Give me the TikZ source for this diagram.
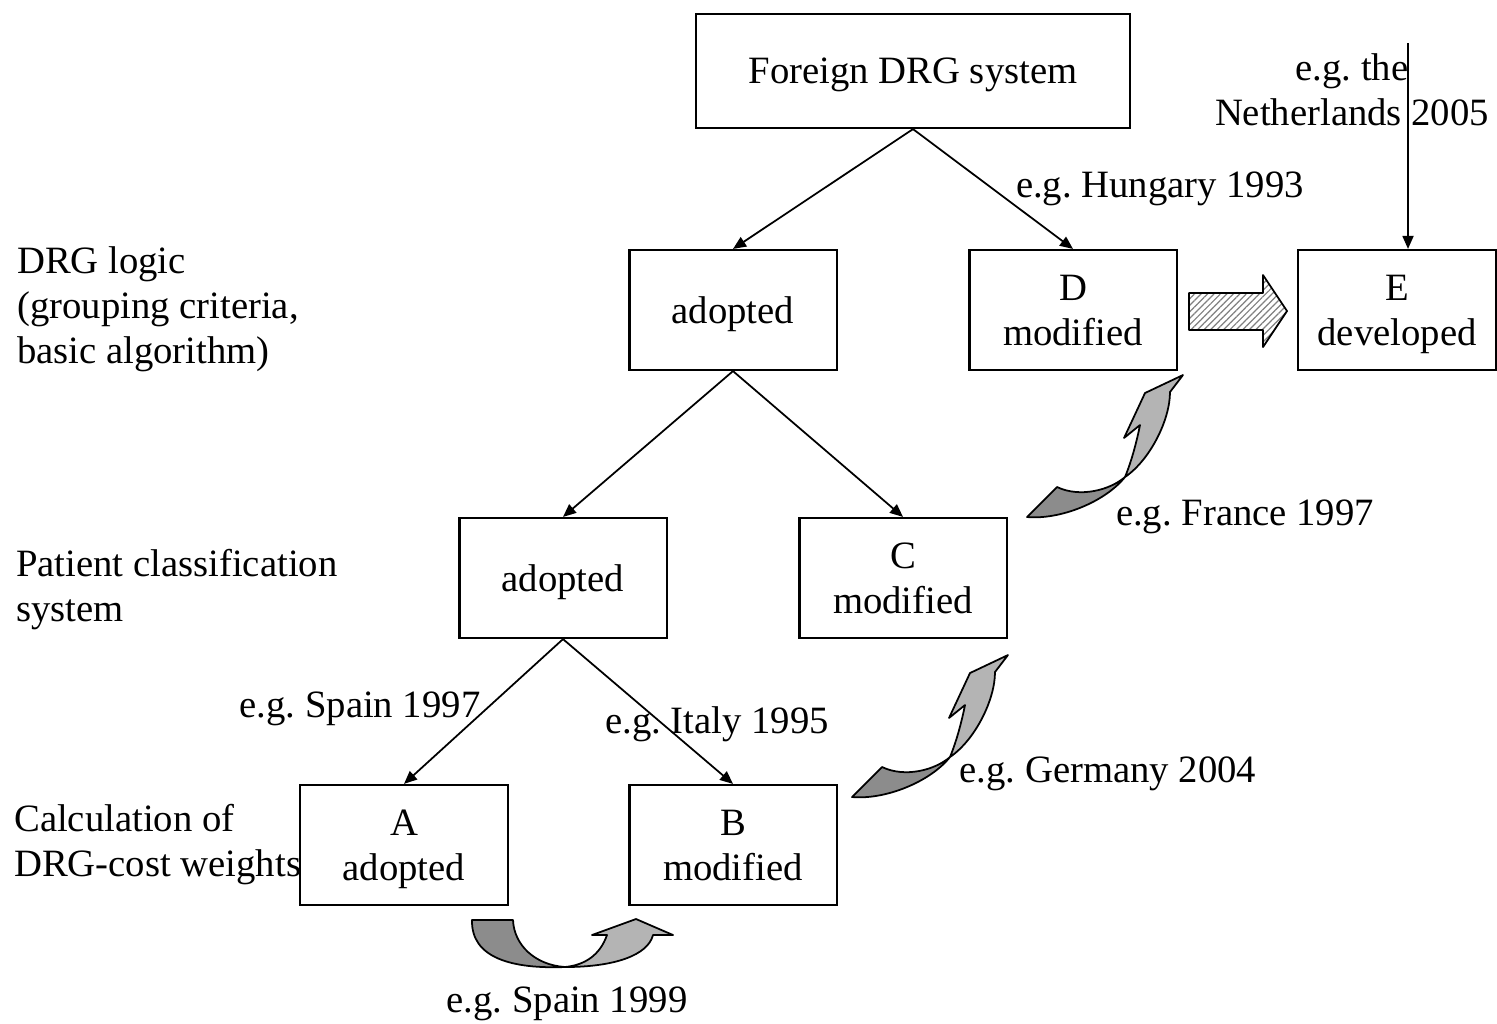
\documentclass[tikz,border=0pt]{standalone}
\usepackage{fontspec}
\setmainfont{Liberation Serif}
\frenchspacing
\usetikzlibrary{arrows.meta,patterns.meta}
\definecolor{ShadeDark}{HTML}{8C8C8C}
\definecolor{ShadeLight}{HTML}{B4B4B4}
\newcommand{\liftarrow}{%
 \draw[bendline,fill=ShadeDark] (852,797) -- (882,767) .. controls (905,778) and (935,770) .. (950,757)
  .. controls (930,782) and (885,800) .. (852,797) -- cycle;
 \draw[bendline,fill=ShadeLight] (950,757) .. controls (957,740) and (962,720) .. (965,705) -- (949,718)
  -- (970,673) -- (1008,655) -- (995,672) .. controls (995,700) and (975,740) .. (950,757) -- cycle;}

\begin{document}
\begin{tikzpicture}[x=.01cm,y=-.01cm,>={Triangle[length=1.3mm,width=1.1mm]},
 box/.style={draw,line width=.6pt,minimum width=2.07cm,minimum height=1.2cm,align=center},
 link/.style={->,line width=.5pt},
 bendline/.style={line width=.5pt,line join=round},
 every node/.style={font=\fontsize{11}{12.8}\selectfont,inner sep=1pt,text depth=0pt}]
\useasboundingbox (0,0) rectangle (1497,1023);
% boxes
\node[box,minimum width=4.33cm,minimum height=1.14cm] (foreign) at (913,71) {Foreign DRG system};
\node[box] (logicA) at (733,310) {adopted};
\node[box] (logicD) at (1073,310) {D\\modified};
\node[box,minimum width=1.98cm] (logicE) at (1397,310) {E\\developed};
\node[box] (classA) at (563,578) {adopted};
\node[box] (classC) at (903,578) {C\\modified};
\node[box] (costA) at (404,845) {A\\adopted};
\node[box] (costB) at (733,845) {B\\modified};
% levels
\node[anchor=west,align=left] (lvlLogic) at (13,305) {DRG logic\\(grouping criteria,\\basic algorithm)};
\node[anchor=west,align=left] (lvlClass) at (12,585) {Patient classification\\system};
\node[anchor=west,align=left] (lvlCost) at (10,840) {Calculation of\\DRG-cost weights};
% examples
\node (egHun) at (1160,185) {e.g. Hungary 1993};
\node[align=center] (egNl) at (1352,90) {e.g. the\\Netherlands 2005};
\node (egFra) at (1245,513) {e.g. France 1997};
\node (egGer) at (1108,770) {e.g. Germany 2004};
\node (egSpa) at (360,705) {e.g. Spain 1997};
\node (egIta) at (717,720) {e.g. Italy 1995};
\node (egSpb) at (567,1000) {e.g. Spain 1999};
% tree
\draw[link] (foreign.south) -- (logicA.north);
\draw[link] (foreign.south) -- (logicD.north);
\draw[link] (logicA.south) -- (classA.north);
\draw[link] (logicA.south) -- (classC.north);
\draw[link] (classA.south) -- (costA.north);
\draw[link] (classA.south) -- (costB.north);
\coordinate (nlTop) at (1408,43);
\draw[link] (nlTop) -- (nlTop |- logicE.north);
% D -> E
\fill[white] (1189,293) -- (1263,293) -- (1263,275) -- (1287,311) -- (1263,347) -- (1263,330) -- (1189,330) -- cycle;
\draw[bendline,pattern={Lines[angle=45,distance=1.3pt,line width=.35pt]},pattern color=black!50]
 (1189,293) -- (1263,293) -- (1263,275) -- (1287,311) -- (1263,347) -- (1263,330) -- (1189,330) -- cycle;
% A -> B
\draw[bendline,fill=ShadeDark] (472,920) -- (513,920) .. controls (514,945) and (535,965) .. (565,967)
 .. controls (512,969) and (471,958) .. (472,920) -- cycle;
\draw[bendline,fill=ShadeLight] (565,967) .. controls (615,967) and (648,955) .. (653,935) -- (673,935) -- (636,919)
 -- (592,935) -- (607,935) .. controls (600,955) and (585,965) .. (565,967) -- cycle;
% B -> C, C -> D
\liftarrow
\begin{scope}[shift={(175,-280)}]
 \liftarrow
\end{scope}
\end{tikzpicture}
\end{document}
